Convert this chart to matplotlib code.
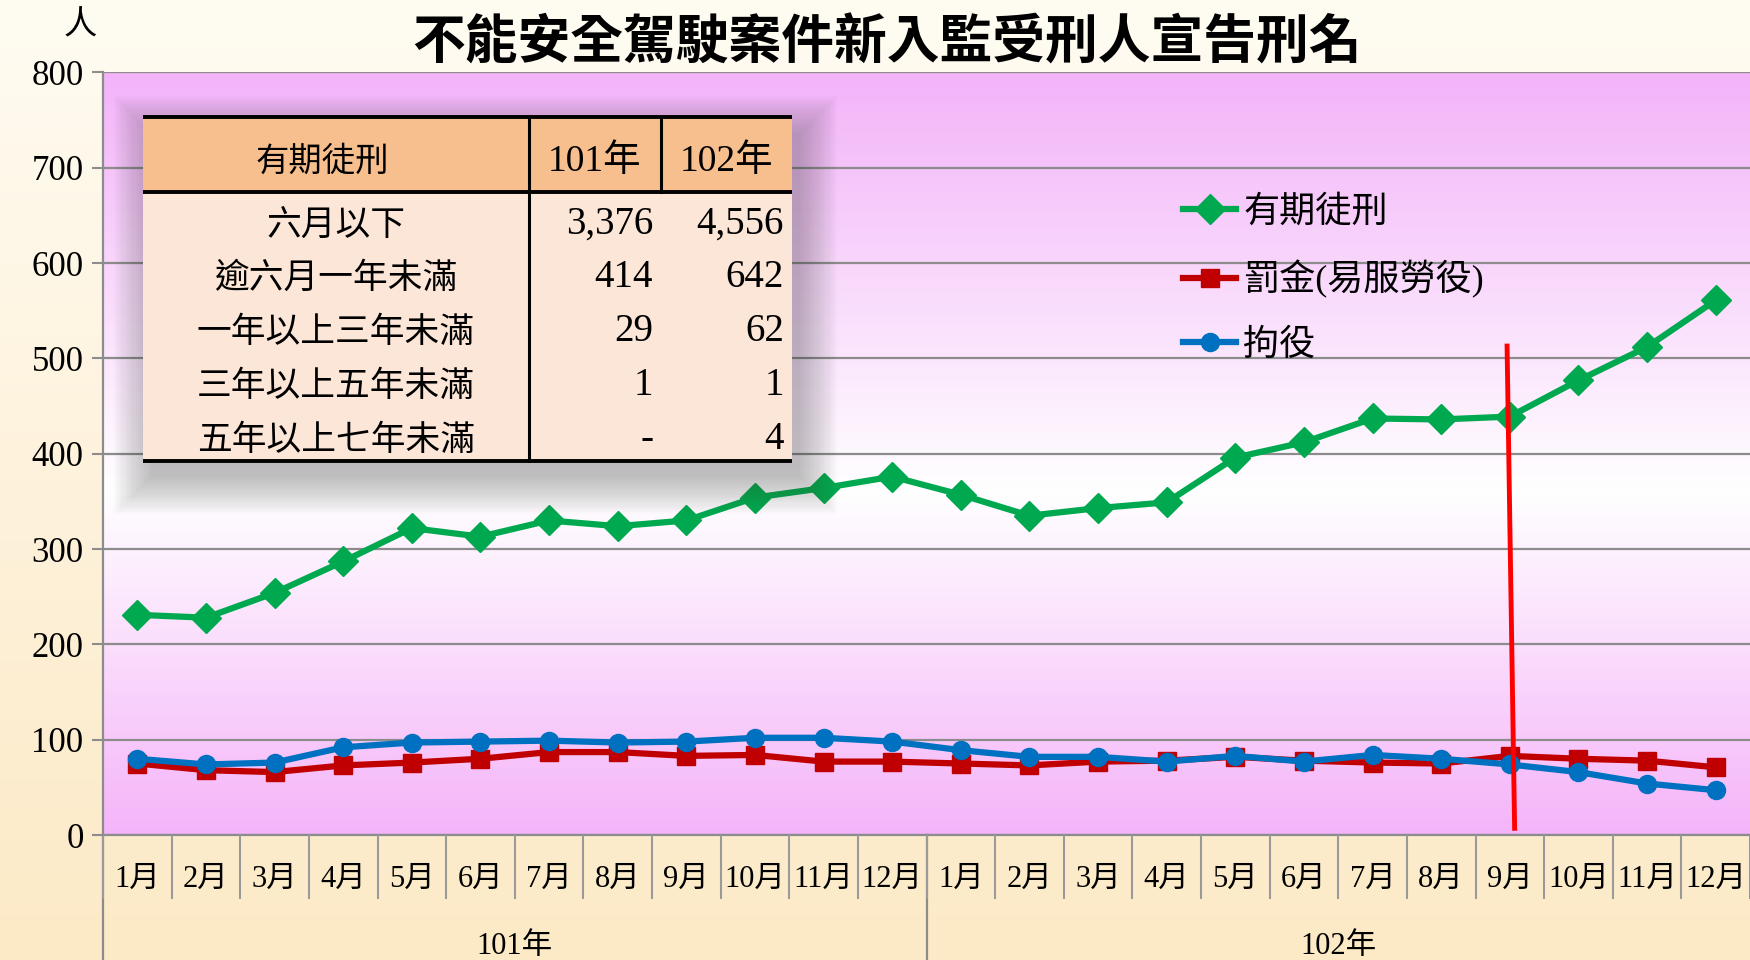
import numpy as np
import matplotlib
matplotlib.use('Agg')
import matplotlib.pyplot as plt
import matplotlib.transforms as mtransforms
from matplotlib.colors import to_rgb
from matplotlib.patches import Rectangle

plt.rcParams['font.family'] = ['Liberation Serif', 'Noto Sans CJK TC', 'DejaVu Sans']

# data
months = ['1月', '2月', '3月', '4月', '5月', '6月', '7月', '8月', '9月', '10月', '11月', '12月'] * 2
years = ['101年', '102年']
prison = [231, 228, 254, 287, 322, 313, 330, 324, 330, 354, 364, 376,
          357, 335, 343, 349, 396, 412, 437, 436, 439, 477, 512, 561]
fine = [75, 68, 66, 73, 76, 80, 87, 87, 83, 84, 77, 77,
        75, 73, 77, 78, 82, 78, 76, 75, 83, 80, 78, 71]
detention = [80, 74, 76, 92, 97, 98, 99, 97, 98, 102, 102, 98,
             89, 82, 82, 77, 83, 77, 84, 80, 74, 66, 54, 47]
series_names = ['有期徒刑', '罰金(易服勞役)', '拘役']
series_colors = ['#00A94F', '#C00000', '#0070C0']
series_markers = ['D', 's', 'o']

table_header = ['有期徒刑', '101年', '102年']
table_rows = ['六月以下', '逾六月一年未滿', '一年以上三年未滿', '三年以上五年未滿', '五年以上七年未滿']
table_101 = ['3,376', '414', '29', '1', '-']
table_102 = ['4,556', '642', '62', '1', '4']

# hand-drawn red marker line near 102年9月
cut_x = [19.96, 20.07]
cut_y = [513, 7]

W, H = 1750, 960
fig = plt.figure(figsize=(W / 100, H / 100), dpi=100)


def vgrad(stops, n=400):
    pos = [s[0] for s in stops]
    cols = np.array([to_rgb(s[1]) for s in stops])
    t = np.linspace(0, 1, n)
    img = np.stack([np.interp(t, pos, cols[:, k]) for k in range(3)], axis=1)
    return img[:, None, :]


# figure background
bg = fig.add_axes([0, 0, 1, 1], zorder=-10)
bg.axis('off')
bg.imshow(vgrad([(0, '#FFFCF2'), (0.5, '#FEF2DC'), (1, '#FCEAC6')]),
          aspect='auto', extent=[0, 1, 0, 1])

# main axes
x0, y0, y1 = 103, 835, 72.5
ax = fig.add_axes([x0 / W, 1 - y0 / H, 1 - x0 / W, (y0 - y1) / H])
ax.patch.set_visible(False)
ax.imshow(vgrad([(0, '#F3B3F9'), (0.55, '#FFFFFF'), (1, '#F5B4F9')]),
          aspect='auto', extent=[-0.5, 23.5, 0, 800], zorder=0)

x = np.arange(len(months))
for vals, name, col, mk in zip([prison, fine, detention], series_names, series_colors, series_markers):
    ms = 15 if mk == 'D' else 13
    ax.plot(x, vals, color=col, lw=4.5, marker=mk, ms=ms, mec=col, label=name, zorder=3)

ax.plot(cut_x, cut_y, color='#FF0000', lw=3.5, zorder=4)

ax.set_xlim(-0.5, 23.5)
ax.set_ylim(0, 800)
ax.set_yticks(range(0, 801, 100))
ax.grid(axis='y', color='#8C8C8C', lw=1.6, zorder=1)
ax.set_axisbelow(False)
ax.tick_params(axis='y', labelsize=25, length=8, width=1.5, color='#8C8C8C', pad=6)
for s in ['top', 'right']:
    ax.spines[s].set_visible(False)
for s in ['left', 'bottom']:
    ax.spines[s].set_color('#8C8C8C')
    ax.spines[s].set_linewidth(1.6)

ax.set_xticks([])
ax.set_xticks(np.arange(-0.5, 24, 1), minor=True)
ax.tick_params(axis='x', which='minor', length=46, width=1.5, color='#9A9A9A', labelbottom=False)

trans = mtransforms.blended_transform_factory(ax.transData, ax.transAxes)
for i, m in enumerate(months):
    ax.text(i, -0.058, m, transform=trans, ha='center', va='center', fontsize=22)
for j, yr in enumerate(years):
    ax.text(j * 12 + 5.5, -0.146, yr, transform=trans, ha='center', va='center', fontsize=22)
for b in [-0.5, 11.5]:
    ax.plot([b, b], [0, -0.2], transform=trans, clip_on=False, color='#8C8C8C', lw=1.6)

ax.legend(loc='upper left', bbox_to_anchor=(0.656, 0.838), frameon=False,
          fontsize=26, handlelength=1.45, handletextpad=0.2, labelspacing=0.85,
          borderpad=0, borderaxespad=0)

fig.text(0.507, 0.955, '不能安全駕駛案件新入監受刑人宣告刑名', ha='center', va='center',
         fontsize=38, fontweight='bold', family=['Noto Sans CJK TC'])
fig.text(80 / W, 1 - 25 / H, '人', ha='center', va='center', fontsize=24,
         family=['Noto Sans CJK TC'])

# summary table, drawn in pixel units (y downwards)
tx0, ty0, tx1, ty1 = 143, 117, 792, 461
tw, th = tx1 - tx0, ty1 - ty0
tax = fig.add_axes([tx0 / W, 1 - ty1 / H, tw / W, th / H], zorder=5)
tax.axis('off')
tax.set_xlim(0, tw)
tax.set_ylim(th, 0)

for k in range(18):
    p = k * 2.2
    tax.add_patch(Rectangle((8 - p, 16 - p), tw + 2 * p, th + 2 * p, facecolor='#404040',
                            alpha=0.02, lw=0, clip_on=False, zorder=0))

col_edges = [0, 386, 518, tw]
head_h = 75
row_h = (th - head_h) / len(table_rows)
tax.add_patch(Rectangle((0, 0), tw, head_h, facecolor='#F8BF8E', lw=0, zorder=1))
tax.add_patch(Rectangle((0, head_h), tw, th - head_h, facecolor='#FCE6D7', lw=0, zorder=1))
for yy in [0, head_h, th]:
    tax.plot([0, tw], [yy, yy], color='black', lw=2.8, zorder=3, clip_on=False, solid_capstyle='butt')
tax.plot([col_edges[1]] * 2, [0, th], color='black', lw=2.2, zorder=3, clip_on=False)
tax.plot([col_edges[2]] * 2, [0, head_h], color='black', lw=2.2, zorder=3, clip_on=False)

for c, txt in enumerate(table_header):
    cx = (col_edges[c] + col_edges[c + 1]) / 2
    fs = 24 if c == 0 else 27
    tax.text(cx - (14 if c == 0 else 0), head_h / 2 + 7, txt, ha='center', va='center',
             fontsize=fs, zorder=4)
for r, (lab, a, b) in enumerate(zip(table_rows, table_101, table_102)):
    cy = head_h + (r + 0.5) * row_h + 5
    tax.text(col_edges[1] / 2, cy + 2, lab, ha='center', va='center', fontsize=25, zorder=4)
    tax.text(col_edges[2] - 8, cy, a, ha='right', va='center', fontsize=28, zorder=4)
    tax.text(col_edges[3] - 8, cy, b, ha='right', va='center', fontsize=28, zorder=4)

fig.savefig('out.png', dpi=100)
